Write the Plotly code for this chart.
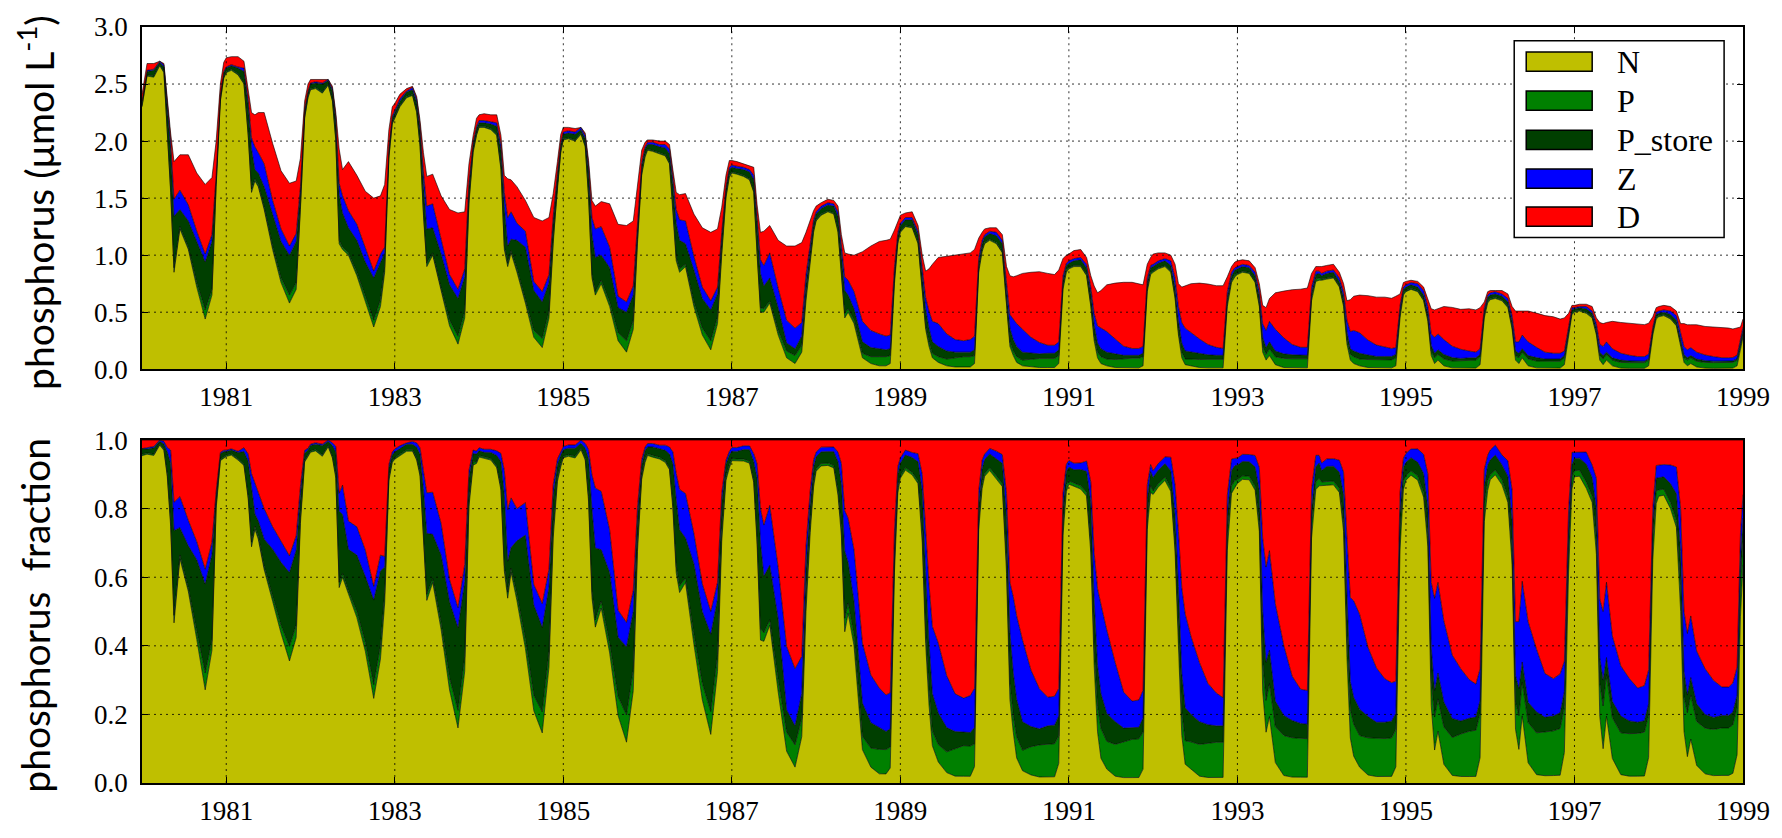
import plotly.graph_objects as go

# ---------------- data ----------------
years = list(range(1980, 1999))
# sampling points inside each year (fraction of the year)
season = [0.00, 0.06, 0.14, 0.21, 0.26, 0.30, 0.34, 0.38, 0.45, 0.55, 0.65, 0.75, 0.83, 0.88, 0.93, 0.97]
end_year = 1999.0

series_names = ["N", "P", "P_store", "Z", "D"]

N = [
    2.30, 2.57, 2.56, 2.66, 2.60, 2.10, 1.55, 0.85, 1.23, 1.05, 0.72, 0.44, 0.65, 1.60, 2.35, 2.55,
    2.60, 2.62, 2.58, 2.50, 2.05, 1.55, 1.65, 1.60, 1.40, 1.05, 0.76, 0.58, 0.70, 1.40, 2.20, 2.38,
    2.45, 2.46, 2.42, 2.49, 2.35, 2.00, 1.10, 1.05, 1.00, 0.82, 0.60, 0.37, 0.55, 0.85, 1.85, 2.15,
    2.20, 2.30, 2.38, 2.40, 2.25, 1.95, 1.35, 0.90, 1.00, 0.68, 0.38, 0.22, 0.45, 1.45, 1.90, 2.05,
    2.12, 2.12, 2.10, 2.05, 1.75, 1.05, 0.90, 1.02, 0.85, 0.58, 0.28, 0.19, 0.45, 1.10, 1.60, 1.90,
    2.01, 2.02, 2.00, 2.06, 1.95, 1.50, 0.80, 0.65, 0.75, 0.55, 0.25, 0.15, 0.35, 1.10, 1.70, 1.86,
    1.92, 1.91, 1.89, 1.87, 1.80, 1.40, 0.95, 0.85, 0.90, 0.55, 0.30, 0.17, 0.40, 1.00, 1.50, 1.68,
    1.72, 1.71, 1.69, 1.66, 1.55, 1.00, 0.50, 0.50, 0.58, 0.30, 0.10, 0.05, 0.15, 0.60, 0.95, 1.20,
    1.30, 1.35, 1.38, 1.36, 1.20, 0.85, 0.45, 0.50, 0.40, 0.10, 0.05, 0.03, 0.03, 0.05, 0.75, 1.10,
    1.20, 1.25, 1.24, 1.10, 0.70, 0.35, 0.20, 0.10, 0.06, 0.03, 0.02, 0.02, 0.02, 0.05, 0.85, 1.03,
    1.10, 1.13, 1.10, 1.02, 0.55, 0.20, 0.12, 0.06, 0.03, 0.02, 0.015, 0.015, 0.015, 0.05, 0.70, 0.85,
    0.88, 0.90, 0.90, 0.82, 0.55, 0.25, 0.10, 0.05, 0.03, 0.015, 0.012, 0.012, 0.012, 0.03, 0.68, 0.83,
    0.85, 0.88, 0.90, 0.85, 0.62, 0.30, 0.10, 0.04, 0.03, 0.015, 0.012, 0.012, 0.012, 0.55, 0.76, 0.81,
    0.83, 0.85, 0.84, 0.76, 0.55, 0.15, 0.08, 0.12, 0.04, 0.015, 0.012, 0.012, 0.012, 0.60, 0.77, 0.78,
    0.78, 0.79, 0.80, 0.72, 0.55, 0.22, 0.08, 0.05, 0.03, 0.015, 0.012, 0.012, 0.012, 0.03, 0.45, 0.65,
    0.68, 0.70, 0.68, 0.60, 0.42, 0.12, 0.05, 0.08, 0.03, 0.012, 0.01, 0.01, 0.01, 0.04, 0.45, 0.58,
    0.61, 0.62, 0.60, 0.54, 0.35, 0.08, 0.05, 0.10, 0.03, 0.012, 0.01, 0.01, 0.01, 0.04, 0.30, 0.48,
    0.50, 0.51, 0.49, 0.45, 0.30, 0.08, 0.04, 0.08, 0.03, 0.01, 0.008, 0.008, 0.008, 0.03, 0.30, 0.44,
    0.46, 0.47, 0.44, 0.38, 0.20, 0.06, 0.03, 0.05, 0.02, 0.01, 0.008, 0.008, 0.008, 0.01, 0.03, 0.18,
    0.28,
]

P = [
    0.01, 0.01, 0.01, 0.01, 0.01, 0.02, 0.03, 0.04, 0.02, 0.02, 0.04, 0.08, 0.05, 0.02, 0.01, 0.01,
    0.01, 0.01, 0.01, 0.01, 0.02, 0.03, 0.02, 0.02, 0.02, 0.03, 0.04, 0.07, 0.06, 0.03, 0.01, 0.01,
    0.01, 0.01, 0.01, 0.01, 0.01, 0.02, 0.03, 0.02, 0.02, 0.03, 0.04, 0.06, 0.06, 0.05, 0.02, 0.01,
    0.01, 0.01, 0.01, 0.01, 0.01, 0.02, 0.03, 0.03, 0.02, 0.03, 0.05, 0.07, 0.06, 0.03, 0.02, 0.01,
    0.01, 0.01, 0.01, 0.01, 0.02, 0.03, 0.03, 0.02, 0.03, 0.04, 0.06, 0.08, 0.06, 0.04, 0.02, 0.02,
    0.01, 0.01, 0.01, 0.01, 0.01, 0.03, 0.03, 0.03, 0.03, 0.04, 0.07, 0.10, 0.08, 0.04, 0.02, 0.02,
    0.01, 0.01, 0.01, 0.01, 0.01, 0.03, 0.03, 0.03, 0.02, 0.04, 0.06, 0.08, 0.06, 0.04, 0.02, 0.02,
    0.01, 0.01, 0.01, 0.01, 0.01, 0.03, 0.04, 0.03, 0.02, 0.04, 0.06, 0.07, 0.06, 0.05, 0.03, 0.02,
    0.01, 0.01, 0.01, 0.01, 0.02, 0.03, 0.04, 0.03, 0.03, 0.04, 0.06, 0.08, 0.08, 0.07, 0.04, 0.02,
    0.01, 0.01, 0.01, 0.01, 0.03, 0.03, 0.04, 0.04, 0.05, 0.06, 0.08, 0.09, 0.09, 0.07, 0.03, 0.02,
    0.01, 0.01, 0.01, 0.01, 0.03, 0.04, 0.04, 0.05, 0.05, 0.07, 0.08, 0.08, 0.08, 0.07, 0.03, 0.02,
    0.01, 0.01, 0.01, 0.01, 0.02, 0.04, 0.05, 0.06, 0.06, 0.07, 0.08, 0.085, 0.085, 0.08, 0.03, 0.02,
    0.01, 0.01, 0.01, 0.01, 0.02, 0.03, 0.05, 0.05, 0.06, 0.07, 0.075, 0.075, 0.075, 0.04, 0.02, 0.02,
    0.01, 0.01, 0.01, 0.01, 0.02, 0.05, 0.05, 0.06, 0.07, 0.08, 0.08, 0.08, 0.08, 0.04, 0.02, 0.02,
    0.01, 0.01, 0.01, 0.01, 0.02, 0.04, 0.05, 0.06, 0.06, 0.07, 0.07, 0.07, 0.07, 0.07, 0.04, 0.02,
    0.01, 0.01, 0.01, 0.01, 0.02, 0.04, 0.05, 0.05, 0.06, 0.06, 0.065, 0.07, 0.07, 0.07, 0.03, 0.02,
    0.01, 0.01, 0.01, 0.01, 0.02, 0.04, 0.05, 0.05, 0.06, 0.06, 0.06, 0.06, 0.06, 0.06, 0.04, 0.02,
    0.01, 0.01, 0.01, 0.01, 0.02, 0.04, 0.05, 0.05, 0.05, 0.05, 0.05, 0.05, 0.05, 0.05, 0.03, 0.02,
    0.01, 0.01, 0.01, 0.01, 0.03, 0.04, 0.05, 0.05, 0.05, 0.05, 0.05, 0.05, 0.05, 0.05, 0.05, 0.04,
    0.03,
]

P_store = [
    0.04, 0.03, 0.05, 0.02, 0.04, 0.15, 0.35, 0.45, 0.15, 0.23, 0.36, 0.42, 0.42, 0.06, 0.04, 0.04,
    0.03, 0.03, 0.05, 0.10, 0.25, 0.35, 0.08, 0.10, 0.18, 0.27, 0.32, 0.35, 0.36, 0.12, 0.05, 0.04,
    0.04, 0.04, 0.07, 0.03, 0.08, 0.15, 0.40, 0.30, 0.22, 0.28, 0.30, 0.37, 0.33, 0.12, 0.06, 0.04,
    0.04, 0.04, 0.04, 0.04, 0.08, 0.12, 0.25, 0.30, 0.22, 0.30, 0.31, 0.33, 0.30, 0.12, 0.05, 0.05,
    0.03, 0.03, 0.04, 0.07, 0.15, 0.35, 0.15, 0.10, 0.25, 0.45, 0.35, 0.32, 0.25, 0.15, 0.07, 0.05,
    0.04, 0.04, 0.05, 0.03, 0.06, 0.20, 0.35, 0.30, 0.22, 0.30, 0.22, 0.25, 0.22, 0.12, 0.06, 0.05,
    0.04, 0.05, 0.05, 0.06, 0.08, 0.20, 0.30, 0.25, 0.18, 0.28, 0.26, 0.27, 0.20, 0.12, 0.06, 0.05,
    0.04, 0.04, 0.05, 0.06, 0.10, 0.25, 0.30, 0.20, 0.20, 0.20, 0.07, 0.06, 0.08, 0.10, 0.08, 0.06,
    0.05, 0.05, 0.05, 0.06, 0.12, 0.15, 0.20, 0.12, 0.10, 0.10, 0.08, 0.07, 0.06, 0.06, 0.05, 0.05,
    0.05, 0.05, 0.06, 0.07, 0.12, 0.15, 0.12, 0.10, 0.09, 0.07, 0.05, 0.04, 0.04, 0.05, 0.05, 0.05,
    0.05, 0.05, 0.06, 0.07, 0.12, 0.12, 0.10, 0.09, 0.07, 0.05, 0.04, 0.045, 0.045, 0.05, 0.05, 0.04,
    0.04, 0.04, 0.05, 0.06, 0.10, 0.10, 0.08, 0.07, 0.06, 0.05, 0.03, 0.025, 0.025, 0.03, 0.05, 0.04,
    0.04, 0.04, 0.04, 0.05, 0.08, 0.10, 0.08, 0.07, 0.06, 0.05, 0.04, 0.035, 0.035, 0.04, 0.04, 0.04,
    0.04, 0.04, 0.04, 0.05, 0.07, 0.08, 0.06, 0.06, 0.05, 0.04, 0.035, 0.03, 0.03, 0.03, 0.04, 0.04,
    0.03, 0.04, 0.04, 0.04, 0.06, 0.07, 0.05, 0.05, 0.05, 0.04, 0.03, 0.03, 0.03, 0.03, 0.03, 0.03,
    0.03, 0.03, 0.03, 0.04, 0.05, 0.05, 0.04, 0.04, 0.04, 0.03, 0.02, 0.02, 0.02, 0.02, 0.03, 0.03,
    0.03, 0.03, 0.03, 0.04, 0.05, 0.04, 0.04, 0.03, 0.03, 0.03, 0.02, 0.02, 0.02, 0.02, 0.02, 0.02,
    0.02, 0.02, 0.03, 0.03, 0.04, 0.03, 0.03, 0.02, 0.02, 0.02, 0.015, 0.013, 0.013, 0.013, 0.02, 0.02,
    0.02, 0.02, 0.03, 0.04, 0.04, 0.03, 0.02, 0.02, 0.02, 0.015, 0.013, 0.013, 0.013, 0.013, 0.013, 0.02,
    0.03,
]

Z = [
    0.00, 0.01, 0.01, 0.01, 0.02, 0.03, 0.08, 0.15, 0.17, 0.14, 0.09, 0.07, 0.06, 0.02, 0.01, 0.01,
    0.01, 0.01, 0.01, 0.03, 0.05, 0.10, 0.20, 0.18, 0.20, 0.13, 0.11, 0.08, 0.07, 0.05, 0.02, 0.01,
    0.01, 0.01, 0.01, 0.01, 0.02, 0.04, 0.10, 0.15, 0.15, 0.14, 0.12, 0.06, 0.07, 0.05, 0.02, 0.02,
    0.02, 0.02, 0.01, 0.02, 0.03, 0.04, 0.10, 0.20, 0.21, 0.14, 0.09, 0.08, 0.07, 0.04, 0.02, 0.02,
    0.02, 0.02, 0.02, 0.03, 0.05, 0.12, 0.25, 0.24, 0.15, 0.14, 0.08, 0.09, 0.07, 0.05, 0.03, 0.02,
    0.02, 0.02, 0.02, 0.02, 0.03, 0.05, 0.15, 0.25, 0.25, 0.18, 0.10, 0.09, 0.08, 0.05, 0.03, 0.02,
    0.02, 0.02, 0.02, 0.03, 0.04, 0.06, 0.12, 0.18, 0.20, 0.12, 0.10, 0.08, 0.06, 0.04, 0.02, 0.02,
    0.02, 0.02, 0.02, 0.02, 0.04, 0.06, 0.12, 0.18, 0.22, 0.17, 0.20, 0.18, 0.12, 0.08, 0.05, 0.03,
    0.02, 0.02, 0.02, 0.02, 0.04, 0.07, 0.12, 0.13, 0.15, 0.18, 0.15, 0.13, 0.12, 0.12, 0.06, 0.03,
    0.02, 0.02, 0.02, 0.03, 0.05, 0.10, 0.15, 0.18, 0.20, 0.15, 0.11, 0.10, 0.11, 0.12, 0.05, 0.03,
    0.02, 0.02, 0.03, 0.03, 0.06, 0.12, 0.18, 0.20, 0.20, 0.14, 0.10, 0.07, 0.07, 0.07, 0.04, 0.02,
    0.02, 0.02, 0.02, 0.03, 0.05, 0.10, 0.15, 0.18, 0.18, 0.13, 0.08, 0.06, 0.06, 0.06, 0.04, 0.02,
    0.02, 0.02, 0.02, 0.04, 0.08, 0.12, 0.18, 0.20, 0.17, 0.13, 0.09, 0.07, 0.06, 0.05, 0.03, 0.02,
    0.02, 0.02, 0.02, 0.03, 0.05, 0.12, 0.15, 0.18, 0.19, 0.14, 0.09, 0.07, 0.07, 0.05, 0.03, 0.02,
    0.02, 0.02, 0.02, 0.03, 0.05, 0.10, 0.15, 0.18, 0.18, 0.13, 0.10, 0.08, 0.07, 0.06, 0.04, 0.02,
    0.02, 0.02, 0.03, 0.04, 0.06, 0.10, 0.14, 0.14, 0.13, 0.10, 0.08, 0.06, 0.05, 0.05, 0.03, 0.02,
    0.02, 0.02, 0.02, 0.03, 0.05, 0.08, 0.10, 0.12, 0.12, 0.09, 0.06, 0.05, 0.05, 0.04, 0.03, 0.02,
    0.01, 0.01, 0.02, 0.02, 0.04, 0.07, 0.08, 0.09, 0.08, 0.06, 0.05, 0.04, 0.04, 0.04, 0.02, 0.02,
    0.02, 0.02, 0.03, 0.04, 0.05, 0.07, 0.07, 0.07, 0.06, 0.05, 0.04, 0.03, 0.03, 0.03, 0.03, 0.03,
    0.03,
]

D = [
    0.06, 0.06, 0.05, 0.00, 0.01, 0.05, 0.06, 0.33, 0.31, 0.44, 0.51, 0.61, 0.50, 0.30, 0.09, 0.08,
    0.08, 0.07, 0.09, 0.06, 0.10, 0.22, 0.28, 0.35, 0.45, 0.50, 0.51, 0.55, 0.46, 0.25, 0.07, 0.06,
    0.03, 0.02, 0.03, 0.00, 0.02, 0.04, 0.30, 0.23, 0.43, 0.43, 0.50, 0.64, 0.51, 0.55, 0.15, 0.08,
    0.06, 0.04, 0.02, 0.01, 0.02, 0.05, 0.17, 0.26, 0.26, 0.37, 0.57, 0.67, 0.50, 0.16, 0.06, 0.07,
    0.05, 0.06, 0.06, 0.07, 0.08, 0.15, 0.34, 0.28, 0.32, 0.27, 0.56, 0.62, 0.50, 0.20, 0.10, 0.07,
    0.04, 0.03, 0.03, 0.00, 0.02, 0.05, 0.15, 0.20, 0.22, 0.38, 0.63, 0.67, 0.57, 0.32, 0.11, 0.04,
    0.02, 0.02, 0.03, 0.03, 0.04, 0.06, 0.15, 0.22, 0.24, 0.37, 0.52, 0.60, 0.51, 0.22, 0.10, 0.06,
    0.04, 0.04, 0.03, 0.03, 0.07, 0.10, 0.24, 0.30, 0.24, 0.42, 0.65, 0.72, 0.70, 0.37, 0.19, 0.08,
    0.05, 0.03, 0.03, 0.03, 0.05, 0.08, 0.21, 0.23, 0.32, 0.61, 0.74, 0.81, 0.84, 0.84, 0.32, 0.10,
    0.07, 0.04, 0.05, 0.05, 0.10, 0.23, 0.37, 0.50, 0.58, 0.68, 0.74, 0.76, 0.76, 0.76, 0.17, 0.07,
    0.05, 0.03, 0.04, 0.05, 0.14, 0.34, 0.37, 0.42, 0.49, 0.57, 0.62, 0.63, 0.62, 0.63, 0.15, 0.07,
    0.06, 0.07, 0.07, 0.06, 0.10, 0.24, 0.29, 0.33, 0.41, 0.49, 0.56, 0.58, 0.57, 0.54, 0.12, 0.07,
    0.09, 0.07, 0.05, 0.05, 0.12, 0.20, 0.31, 0.37, 0.43, 0.49, 0.53, 0.54, 0.55, 0.13, 0.05, 0.05,
    0.05, 0.04, 0.04, 0.04, 0.06, 0.16, 0.20, 0.20, 0.32, 0.41, 0.48, 0.51, 0.52, 0.12, 0.04, 0.04,
    0.06, 0.05, 0.05, 0.05, 0.07, 0.17, 0.28, 0.30, 0.33, 0.39, 0.42, 0.44, 0.44, 0.45, 0.10, 0.04,
    0.03, 0.02, 0.02, 0.03, 0.06, 0.22, 0.24, 0.22, 0.29, 0.34, 0.35, 0.37, 0.37, 0.36, 0.05, 0.03,
    0.02, 0.01, 0.03, 0.04, 0.08, 0.27, 0.27, 0.21, 0.27, 0.30, 0.32, 0.32, 0.30, 0.29, 0.10, 0.02,
    0.02, 0.02, 0.02, 0.04, 0.05, 0.19, 0.20, 0.17, 0.24, 0.27, 0.28, 0.29, 0.28, 0.27, 0.09, 0.04,
    0.04, 0.04, 0.04, 0.04, 0.08, 0.20, 0.22, 0.20, 0.24, 0.25, 0.26, 0.26, 0.26, 0.25, 0.24, 0.10,
    0.07,
]

x_ticks = [1981, 1983, 1985, 1987, 1989, 1991, 1993, 1995, 1997, 1999]
x_tick_labels = ["1981", "1983", "1985", "1987", "1989", "1991", "1993", "1995", "1997", "1999"]
y1_ticks = [0.0, 0.5, 1.0, 1.5, 2.0, 2.5, 3.0]
y1_tick_labels = ["0.0", "0.5", "1.0", "1.5", "2.0", "2.5", "3.0"]
y2_ticks = [0.0, 0.2, 0.4, 0.6, 0.8, 1.0]
y2_tick_labels = ["0.0", "0.2", "0.4", "0.6", "0.8", "1.0"]

fill_colors = ["#BFBF00", "#008000", "#003F00", "#0000FF", "#FF0000"]

# ---------------- figure ----------------
x = [y + s for y in years for s in season] + [end_year]
series = [N, P, P_store, Z, D]

fig = go.Figure()
for i, (name, vals, col) in enumerate(zip(series_names, series, fill_colors)):
    fig.add_trace(go.Scatter(
        x=x, y=vals, name=name, mode="lines", stackgroup="abs",
        line=dict(color="black", width=0.6), fillcolor=col,
        showlegend=False, xaxis="x", yaxis="y", hoverinfo="skip"))
for i, (name, vals, col) in enumerate(zip(series_names, series, fill_colors)):
    kw = dict(groupnorm="fraction") if i == 0 else {}
    fig.add_trace(go.Scatter(
        x=x, y=vals, name=name, mode="lines", stackgroup="frac",
        line=dict(color="black", width=0.6), fillcolor=col,
        showlegend=False, xaxis="x2", yaxis="y2", hoverinfo="skip", **kw))

tick_font = dict(family="Liberation Serif", size=27, color="black")
axis_common = dict(showline=True, linecolor="black", linewidth=1.5, mirror="ticks",
                   ticks="inside", ticklen=6, tickwidth=1, tickcolor="black",
                   showgrid=False, zeroline=False, layer="above traces",
                   tickfont=tick_font)

upper_dom = [0.5473, 1.0]
lower_dom = [0.0, 0.4536]

fig.update_layout(
    width=1782, height=838,
    margin=dict(l=142, r=37, t=22, b=29),
    paper_bgcolor="white", plot_bgcolor="white",
    showlegend=False,
    xaxis=dict(domain=[0, 1], range=[1980, 1999], tickvals=x_ticks, ticktext=x_tick_labels,
               anchor="y", ticklabelstandoff=3, **axis_common),
    yaxis=dict(domain=upper_dom, range=[0, 3.0], tickvals=y1_ticks, ticktext=y1_tick_labels,
               anchor="x", ticklabelstandoff=7, **axis_common),
    xaxis2=dict(domain=[0, 1], range=[1980, 1999], tickvals=x_ticks, ticktext=x_tick_labels,
                anchor="y2", ticklabelstandoff=3, **axis_common),
    yaxis2=dict(domain=lower_dom, range=[0, 1.0], tickvals=y2_ticks, ticktext=y2_tick_labels,
                anchor="x2", ticklabelstandoff=7, **axis_common),
)

grid_line = dict(color="rgba(0,0,0,0.8)", width=1, dash="2px,4px")
shapes = []
for xr, yr in (("x", "y"), ("x2", "y2")):
    for xv in x_ticks[:-1]:
        shapes.append(dict(type="line", xref=xr, yref=yr + " domain", x0=xv, x1=xv, y0=0, y1=1,
                           line=grid_line, layer="above"))
for yv in y1_ticks[1:-1]:
    shapes.append(dict(type="line", xref="x domain", yref="y", x0=0, x1=1, y0=yv, y1=yv,
                       line=grid_line, layer="above"))
for yv in y2_ticks[1:-1]:
    shapes.append(dict(type="line", xref="x2 domain", yref="y2", x0=0, x1=1, y0=yv, y1=yv,
                       line=grid_line, layer="above"))

# legend box (drawn by hand to match the wide rectangular patches)
shapes.append(dict(type="rect", xref="x domain", yref="y domain", x0=0.8571, x1=0.9882,
                   y0=0.385, y1=0.9599, fillcolor="white", line=dict(color="black", width=1.5),
                   layer="above"))
legend_y = [0.899, 0.785, 0.670, 0.557, 0.446]
annotations = []
for name, col, ly in zip(series_names, fill_colors, legend_y):
    shapes.append(dict(type="rect", xref="x domain", yref="y domain", x0=0.8646, x1=0.9058,
                       y0=ly - 0.028, y1=ly + 0.028, fillcolor=col,
                       line=dict(color="black", width=1.5), layer="above"))
    annotations.append(dict(text=name, xref="x domain", yref="y domain", x=0.9200, y=ly,
                            xanchor="left", yanchor="middle", showarrow=False,
                            font=dict(family="Liberation Serif", size=32, color="black")))

title_font = dict(family="Lato", size=39, color="black")
annotations.append(dict(text="phosphorus (μmol L<sup>-1</sup>)", xref="paper", yref="paper",
                        x=-0.0665, y=0.768, textangle=-90, showarrow=False,
                        xanchor="center", yanchor="middle", font=title_font))
annotations.append(dict(text="phosphorus\u00a0 fraction", xref="paper", yref="paper",
                        x=-0.0665, y=0.222, textangle=-90, showarrow=False,
                        xanchor="center", yanchor="middle", font=title_font))

fig.update_layout(shapes=shapes, annotations=annotations)
fig.write_html("out.html")
